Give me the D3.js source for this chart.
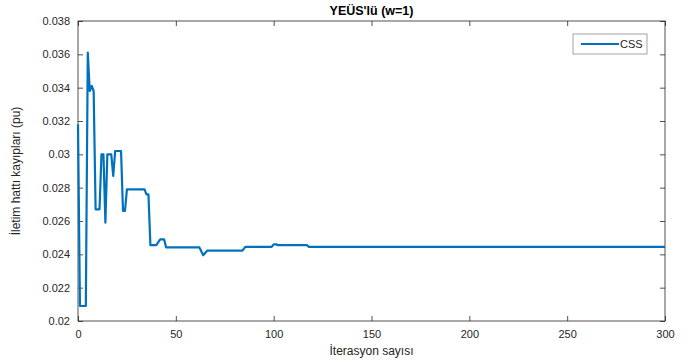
<!DOCTYPE html>
<html>
<head>
<meta charset="utf-8">
<script src="https://cdn.jsdelivr.net/npm/d3@7"></script>
<style>
  body { margin: 0; background: #fff; }
  svg text { font-family: "Liberation Sans", Arial, Helvetica, sans-serif; fill: #262626; }
</style>
</head>
<body>
<div id="chart"></div>
<script>
// breakpoints of the CSS curve (iteration, loss in pu)
const iterations = [0, 1, 4, 5, 6, 7, 8, 9, 11, 12, 13, 14, 15, 17, 18, 19, 22, 23, 24, 25,
    34, 35, 36, 37, 40, 42, 44, 45, 62, 64, 66, 84, 85.5, 99, 100, 101.5, 102, 117, 118, 300];
const losses = [0.0318, 0.0209, 0.0209, 0.0361, 0.0338, 0.0341, 0.0338, 0.0267, 0.0267, 0.0300,
    0.0300, 0.0259, 0.0300, 0.0300, 0.0287, 0.0302, 0.0302, 0.0266, 0.0266, 0.0279,
    0.0279, 0.0276, 0.0276, 0.02455, 0.02455, 0.0249, 0.0249, 0.02442, 0.02442, 0.02395,
    0.02422, 0.02422, 0.02445, 0.02445, 0.0246, 0.0246, 0.02455, 0.02455, 0.02445, 0.02445];
const xTicks = [0, 50, 100, 150, 200, 250, 300];
const yTicks = [0.02, 0.022, 0.024, 0.026, 0.028, 0.03, 0.032, 0.034, 0.036, 0.038];
const yTickLabels = ["0.02", "0.022", "0.024", "0.026", "0.028", "0.03", "0.032", "0.034", "0.036", "0.038"];
const seriesName = "CSS";

const W = 698, H = 362;
const margin = {left: 78, right: 33, top: 21, bottom: 41};
const iw = W - margin.left - margin.right;
const ih = H - margin.top - margin.bottom;

const svg = d3.select("#chart").append("svg")
    .attr("width", W).attr("height", H);

const x = d3.scaleLinear().domain([0, 300]).range([0, iw]);
const y = d3.scaleLinear().domain([0.02, 0.038]).range([ih, 0]);

const g = svg.append("g").attr("transform", `translate(${margin.left},${margin.top})`);

function styleAxis(sel, noText) {
    sel.select(".domain").remove();
    sel.selectAll(".tick line").attr("stroke", "#262626").attr("stroke-width", 0.8);
    sel.selectAll(".tick text").attr("font-size", "11px").attr("fill", "#262626");
    if (noText) sel.selectAll(".tick text").remove();
}

// bottom / left axes, ticks pointing inward
g.append("g").attr("transform", `translate(0,${ih})`)
    .call(d3.axisBottom(x).tickValues(xTicks).tickSizeInner(-5).tickSizeOuter(0).tickPadding(9))
    .call(s => styleAxis(s));
g.append("g")
    .call(d3.axisLeft(y).tickValues(yTicks).tickSizeInner(-5).tickSizeOuter(0).tickPadding(8)
        .tickFormat((d, i) => yTickLabels[i]))
    .call(s => styleAxis(s));
// top / right (box ticks)
g.append("g")
    .call(d3.axisTop(x).tickValues(xTicks).tickSizeInner(-5).tickSizeOuter(0))
    .call(s => styleAxis(s, true));
g.append("g").attr("transform", `translate(${iw},0)`)
    .call(d3.axisRight(y).tickValues(yTicks).tickSizeInner(-5).tickSizeOuter(0))
    .call(s => styleAxis(s, true));

g.append("rect")
    .attr("width", iw).attr("height", ih)
    .attr("fill", "none").attr("stroke", "#262626").attr("stroke-width", 0.8);

const pts = iterations.map((it, i) => [it, losses[i]]);
const line = d3.line().x(d => x(d[0])).y(d => y(d[1]));

g.append("path")
    .datum(pts)
    .attr("d", line)
    .attr("fill", "none")
    .attr("stroke", "#0072BD")
    .attr("stroke-width", 2.2)
    .attr("stroke-linejoin", "round");

// title
svg.append("text")
    .attr("x", margin.left + iw / 2).attr("y", 15)
    .attr("text-anchor", "middle")
    .attr("font-size", "12.5px").attr("font-weight", "bold")
    .style("fill", "#000")
    .text("YEÜS'lü (w=1)");

// axis labels
svg.append("text")
    .attr("x", margin.left + iw / 2).attr("y", 355)
    .attr("text-anchor", "middle")
    .attr("font-size", "12px")
    .text("İterasyon sayısı");
svg.append("text")
    .attr("transform", `translate(20,${margin.top + ih / 2}) rotate(-90)`)
    .attr("text-anchor", "middle")
    .attr("font-size", "12px")
    .text("İletim hattı kayıpları (pu)");

// legend
const lg = g.append("g").attr("transform", `translate(${iw - 92},13)`);
lg.append("rect")
    .attr("width", 74).attr("height", 20)
    .attr("fill", "#fff").attr("stroke", "#8c8c8c").attr("stroke-width", 0.8);
lg.append("line")
    .attr("x1", 8).attr("x2", 46).attr("y1", 10).attr("y2", 10)
    .attr("stroke", "#0072BD").attr("stroke-width", 2.2);
lg.append("text")
    .attr("x", 47).attr("y", 14)
    .attr("font-size", "11px")
    .text(seriesName);
</script>
</body>
</html>
